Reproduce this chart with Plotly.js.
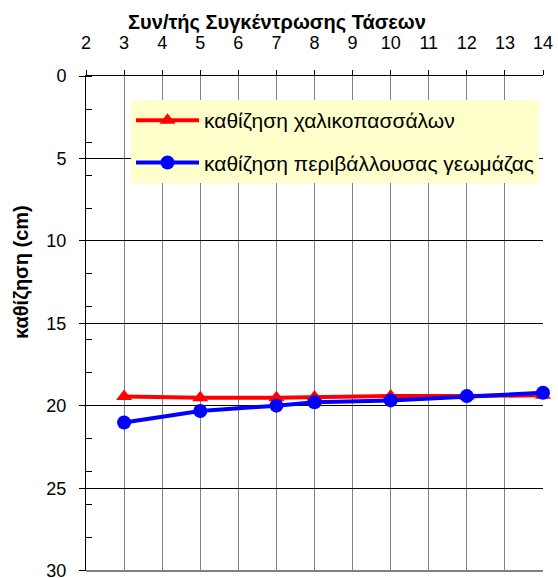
<!DOCTYPE html>
<html>
<head>
<meta charset="utf-8">
<script src="https://cdn.plot.ly/plotly-3.0.1.min.js"></script>
<style>html,body{margin:0;padding:0;background:#fff;}#chart{width:558px;height:578px;}</style>
</head>
<body>
<div id="chart"></div>
<script>
const xPiles = [3, 5, 7, 8, 10, 12, 14];
const yPiles = [19.42, 19.5, 19.5, 19.45, 19.4, 19.4, 19.35];
const xSoil = [3, 5, 7, 8, 10, 12, 14];
const ySoil = [21.0, 20.3, 19.98, 19.78, 19.66, 19.4, 19.2];
const namePiles = 'καθίζηση χαλικοπασσάλων';
const nameSoil = 'καθίζηση περιβάλλουσας γεωμάζας';
const xTitle = 'Συν/τής Συγκέντρωσης Τάσεων';
const yTitle = 'καθίζηση (cm)';

const FONT = '"Liberation Sans", Arial, sans-serif';

const traces = [
  {x: xPiles, y: yPiles, name: namePiles, type: 'scatter', mode: 'lines+markers',
   line: {color: '#FF0000', width: 4}, marker: {symbol: 'triangle-up', size: 14, color: '#FF0000'},
   cliponaxis: false, legendgroup: 'a'},
  {x: xSoil, y: ySoil, name: nameSoil, type: 'scatter', mode: 'lines+markers',
   line: {color: '#0000FF', width: 4}, marker: {symbol: 'circle', size: 14, color: '#0000FF'},
   cliponaxis: false, legendgroup: 'b'}
];

const layout = {
  width: 558, height: 578,
  margin: {l: 86, r: 15, t: 76, b: 7},
  paper_bgcolor: '#fff', plot_bgcolor: '#fff',
  font: {family: FONT, size: 18, color: '#000'},
  title: {text: '<b>' + xTitle + '</b>', font: {family: FONT, size: 20, color: '#000'},
          x: 277/558, xanchor: 'center', y: 1 - 22/578, yanchor: 'middle'},
  xaxis: {range: [2, 14], side: 'top', dtick: 1, tick0: 2,
          showgrid: true, gridcolor: '#808080', gridwidth: 1,
          showline: true, linecolor: '#000', linewidth: 1,
          ticks: 'outside', ticklen: 5, tickcolor: '#000', ticklabelstandoff: 14,
          tickfont: {family: FONT, size: 18, color: '#000'}, zeroline: false, fixedrange: true},
  yaxis: {range: [30.001, 0], dtick: 5, tick0: 0,
          showgrid: true, gridcolor: '#000', gridwidth: 1,
          showline: true, linecolor: '#000', linewidth: 1,
          ticks: 'outside', ticklen: 6, tickcolor: '#000', ticklabelstandoff: 9,
          ticklabeloverflow: 'allow',
          minor: {dtick: 2, tick0: 0, ticks: 'inside', ticklen: 6, tickcolor: '#000', showgrid: false},
          tickfont: {family: FONT, size: 18, color: '#000'}, zeroline: false, fixedrange: true},
  showlegend: true,
  legend: {x: (131-86)/457, xanchor: 'left', y: (571-100)/495, yanchor: 'top',
           bgcolor: '#FFFFCC', borderwidth: 0, font: {family: FONT, size: 21, color: '#000'},
           traceorder: 'grouped', tracegroupgap: 12, itemwidth: 63},
  shapes: [
    {type: 'line', xref: 'paper', yref: 'paper', x0: 0, x1: 1, y0: 0, y1: 0,
     line: {color: '#808080', width: 2}}
  ],
  annotations: [
    {text: '<b>' + yTitle + '</b>', xref: 'paper', yref: 'paper', x: (21-86)/457, y: (571-272)/495,
     textangle: -90, showarrow: false, font: {family: FONT, size: 20, color: '#000'},
     xanchor: 'center', yanchor: 'middle'}
  ]
};

Plotly.newPlot('chart', traces, layout, {displayModeBar: false, staticPlot: true});
</script>
</body>
</html>
